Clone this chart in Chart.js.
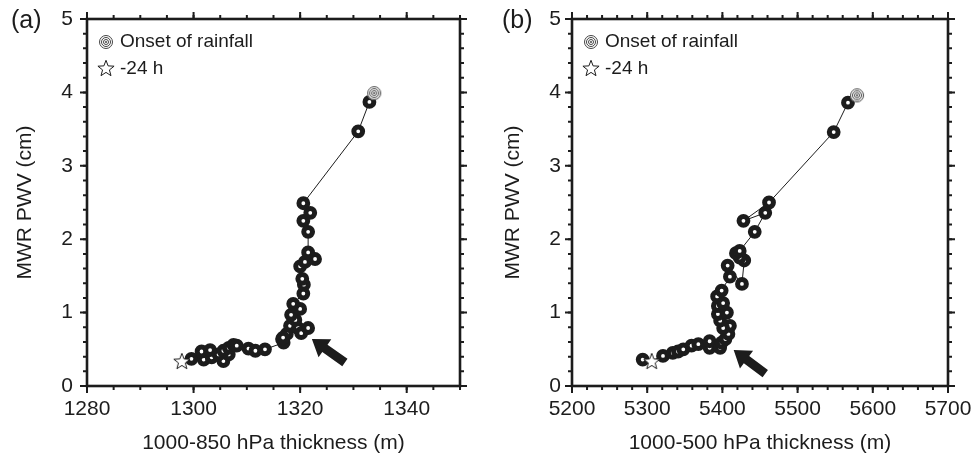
<!DOCTYPE html>
<html>
<head>
<meta charset="utf-8">
<title>MWR PWV vs thickness</title>
<script src="https://cdn.jsdelivr.net/npm/chart.js@4.4.0/dist/chart.umd.min.js"></script>
<style>
  html, body { margin: 0; padding: 0; background: #fff; }
  #wrap { position: relative; width: 976px; height: 459px; overflow: hidden; }
  .panel { position: absolute; top: 0; width: 488px; height: 459px; }
  #panelA { left: 0; }
  #panelB { left: 488px; }
</style>
</head>
<body>
<div id="wrap">
  <div class="panel" id="panelA"><canvas id="chartA" width="488" height="459"></canvas></div>
  <div class="panel" id="panelB"><canvas id="chartB" width="488" height="459"></canvas></div>
</div>
<script>
'use strict';

// Panel (a): 1000-850 hPa thickness (m) and MWR PWV (cm), in time order
var thickA = [1297.8, 1299.6, 1301.9, 1301.5, 1303.4, 1303.1, 1305.6, 1304.7, 1306.6, 1305.6,
  1306.6, 1307.5, 1308.1, 1310.3, 1311.6, 1313.4, 1316.9, 1316.6, 1317.5, 1316.8,
  1318.1, 1319.6, 1320.2, 1321.5, 1319.1, 1318.3, 1320.0, 1318.7, 1320.6, 1320.7,
  1320.4, 1320.0, 1320.9, 1322.8, 1321.5, 1321.5, 1320.6, 1321.9, 1320.6, 1330.9,
  1333.0, 1333.9];
var pwvA = [0.34, 0.37, 0.36, 0.47, 0.39, 0.49, 0.34, 0.43, 0.43, 0.48,
  0.52, 0.56, 0.55, 0.51, 0.48, 0.50, 0.59, 0.64, 0.71, 0.66,
  0.82, 0.79, 0.72, 0.79, 0.90, 0.97, 1.05, 1.12, 1.26, 1.38,
  1.46, 1.63, 1.69, 1.73, 1.82, 2.10, 2.25, 2.36, 2.49, 3.47,
  3.87, 3.99];

// Panel (b): 1000-500 hPa thickness (m) and MWR PWV (cm), in time order
var thickB = [5294, 5306, 5321, 5334, 5341, 5348, 5359, 5368, 5383, 5383,
  5397, 5399, 5404, 5408, 5410, 5401, 5397, 5394, 5406, 5394,
  5401, 5393, 5399, 5410, 5407, 5426, 5429, 5423, 5418, 5423,
  5443, 5457, 5428, 5462, 5548, 5567, 5579];
var pwvB = [0.36, 0.34, 0.41, 0.45, 0.47, 0.50, 0.55, 0.57, 0.52, 0.61,
  0.52, 0.59, 0.64, 0.71, 0.82, 0.79, 0.89, 0.98, 1.00, 1.09,
  1.13, 1.22, 1.30, 1.49, 1.64, 1.39, 1.71, 1.75, 1.81, 1.84,
  2.10, 2.36, 2.25, 2.50, 3.46, 3.86, 3.96];

// which point is -24 h (onset of rainfall is the last point)
var startA = 0;
var startB = 1;

// axes
var xTicksA = [1280, 1300, 1320, 1340];
var xTicksB = [5200, 5300, 5400, 5500, 5600, 5700];
var yTicks = [0, 1, 2, 3, 4, 5];

// arrows: tail x, tail y, tip x, tip y (data units)
var arrowA = [1328.4, 0.32, 1322.2, 0.64];
var arrowB = [5457, 0.17, 5415, 0.49];

var ink = '#1c1c1c';
Chart.defaults.font.family = '"Liberation Sans", Arial, Helvetica, sans-serif';
Chart.defaults.color = ink;

// point images
function makeStar() {
  var c = document.createElement('canvas');
  c.width = 20; c.height = 20;
  var g = c.getContext('2d');
  g.beginPath();
  for (var i = 0; i < 10; i++) {
    var r = i % 2 === 0 ? 8.5 : 3.6;
    var a = -Math.PI / 2 + i * Math.PI / 5;
    var px = 10 + r * Math.cos(a), py = 10.8 + r * Math.sin(a);
    if (i === 0) g.moveTo(px, py); else g.lineTo(px, py);
  }
  g.closePath();
  g.fillStyle = '#fff';
  g.fill();
  g.lineWidth = 1;
  g.strokeStyle = ink;
  g.stroke();
  return c;
}
function makeBull() {
  var c = document.createElement('canvas');
  c.width = 16; c.height = 16;
  var g = c.getContext('2d');
  g.fillStyle = '#fff';
  g.beginPath(); g.arc(8, 8, 7, 0, Math.PI * 2); g.fill();
  g.strokeStyle = '#444';
  g.lineWidth = 1;
  [6.5, 4.5, 2.5].forEach(function (r) {
    g.beginPath(); g.arc(8, 8, r, 0, Math.PI * 2); g.stroke();
  });
  g.fillStyle = '#444';
  g.beginPath(); g.arc(8, 8, 1, 0, Math.PI * 2); g.fill();
  return c;
}
var starImg = makeStar();
var bullImg = makeBull();

// box with outward ticks on all four sides
var framePlugin = {
  id: 'frame',
  afterDraw: function (chart, args, opts) {
    var ctx = chart.ctx, a = chart.chartArea;
    var xs = chart.scales.x, ys = chart.scales.y;
    ctx.save();
    ctx.strokeStyle = ink;
    ctx.lineWidth = 2;
    ctx.lineCap = 'butt';
    function tick(len, v, isX) {
      if (isX) {
        var px = xs.getPixelForValue(v);
        ctx.beginPath();
        ctx.moveTo(px, a.bottom); ctx.lineTo(px, a.bottom + len);
        ctx.moveTo(px, a.top); ctx.lineTo(px, a.top - len);
        ctx.stroke();
      } else {
        var py = ys.getPixelForValue(v);
        ctx.beginPath();
        ctx.moveTo(a.left, py); ctx.lineTo(a.left - len, py);
        ctx.moveTo(a.right, py); ctx.lineTo(a.right + len, py);
        ctx.stroke();
      }
    }
    var v;
    for (v = xs.min; v <= xs.max + 1e-9; v += opts.xMinor) tick(4, v, true);
    opts.xTicks.forEach(function (t) { tick(7, t, true); });
    for (v = ys.min; v <= ys.max + 1e-9; v += 0.2) tick(4, v, false);
    yTicks.forEach(function (t) { tick(7, t, false); });
    ctx.lineWidth = 2.6;
    ctx.strokeRect(a.left, a.top, a.right - a.left, a.bottom - a.top);
    ctx.restore();
  }
};

// big black arrow
var arrowPlugin = {
  id: 'arrow',
  afterDraw: function (chart, args, opts) {
    var xs = chart.scales.x, ys = chart.scales.y, ctx = chart.ctx;
    var x0 = xs.getPixelForValue(opts.pos[0]), y0 = ys.getPixelForValue(opts.pos[1]);
    var x1 = xs.getPixelForValue(opts.pos[2]), y1 = ys.getPixelForValue(opts.pos[3]);
    var ang = Math.atan2(y1 - y0, x1 - x0);
    var len = Math.hypot(x1 - x0, y1 - y0);
    var head = 16, hw = 11, sw = 4.5;
    ctx.save();
    ctx.translate(x0, y0);
    ctx.rotate(ang);
    ctx.beginPath();
    ctx.moveTo(0, -sw);
    ctx.lineTo(len - head, -sw);
    ctx.lineTo(len - head, -hw);
    ctx.lineTo(len, 0);
    ctx.lineTo(len - head, hw);
    ctx.lineTo(len - head, sw);
    ctx.lineTo(0, sw);
    ctx.closePath();
    ctx.fillStyle = ink;
    ctx.fill();
    ctx.restore();
  }
};

// legend in the top left corner and the panel letter
var notePlugin = {
  id: 'note',
  afterDraw: function (chart, args, opts) {
    var ctx = chart.ctx, a = chart.chartArea;
    ctx.save();
    ctx.fillStyle = ink;
    ctx.textBaseline = 'middle';
    ctx.textAlign = 'left';
    ctx.font = '19px "Liberation Sans", Arial, sans-serif';
    ctx.drawImage(bullImg, a.left + 19 - 8, a.top + 23 - 8);
    ctx.fillText('Onset of rainfall', a.left + 33, a.top + 23);
    ctx.drawImage(starImg, a.left + 19 - 10, a.top + 50 - 11);
    ctx.fillText('-24 h', a.left + 33, a.top + 50);
    ctx.font = '25px "Liberation Sans", Arial, sans-serif';
    ctx.fillText(opts.letter, opts.letterX, 21);
    ctx.restore();
  }
};

function plain(v) { return String(v); }

function makeChart(id, o) {
  var pts = o.x.map(function (v, i) { return { x: v, y: o.y[i] }; });
  var last = pts.length - 1;
  return new Chart(document.getElementById(id), {
    type: 'scatter',
    data: {
      datasets: [
        { data: [pts[o.start]], pointStyle: starImg, order: 1 },
        { data: [pts[last]], pointStyle: bullImg, order: 1 },
        {
          data: pts,
          showLine: true,
          borderColor: ink,
          borderWidth: 1,
          pointStyle: 'circle',
          pointRadius: function (c) { return (c.dataIndex === last || c.dataIndex === o.start) ? 0 : 4.4; },
          pointBorderWidth: 5,
          pointBorderColor: ink,
          pointBackgroundColor: '#fff',
          order: 2
        }
      ]
    },
    options: {
      responsive: false,
      animation: false,
      devicePixelRatio: 1,
      layout: { padding: { left: 0, right: 28, top: 19, bottom: 0 } },
      plugins: {
        legend: { display: false },
        tooltip: { enabled: false },
        frame: { xTicks: o.xTicks, xMinor: o.xMinor },
        arrow: { pos: o.arrow },
        note: { letter: o.letter, letterX: o.letterX }
      },
      scales: {
        x: {
          type: 'linear',
          min: o.xMin,
          max: o.xMax,
          afterBuildTicks: function (s) { s.ticks = o.xTicks.map(function (v) { return { value: v }; }); },
          afterFit: function (s) { s.height = 73; s.paddingLeft = 0; s.paddingRight = 0; },
          grid: { display: false, drawTicks: false },
          border: { display: false },
          ticks: { font: { size: 21 }, color: ink, padding: 11, maxRotation: 0, autoSkip: false, callback: plain },
          title: { display: true, text: o.xTitle, color: ink, font: { size: 21 }, padding: { top: 0, bottom: 3 } }
        },
        y: {
          type: 'linear',
          min: 0,
          max: 5,
          afterBuildTicks: function (s) { s.ticks = yTicks.map(function (v) { return { value: v }; }); },
          afterFit: function (s) { s.width = o.yWidth; s.paddingTop = 0; s.paddingBottom = 0; },
          grid: { display: false, drawTicks: false },
          border: { display: false },
          ticks: { font: { size: 21 }, color: ink, padding: o.yPad, callback: plain },
          title: { display: true, text: 'MWR PWV (cm)', color: ink, font: { size: 21 }, padding: { top: 13, bottom: 0 } }
        }
      }
    },
    plugins: [framePlugin, arrowPlugin, notePlugin]
  });
}

makeChart('chartA', {
  x: thickA, y: pwvA, start: startA,
  xMin: 1280, xMax: 1350, xTicks: xTicksA, xMinor: 5,
  xTitle: '1000-850 hPa thickness (m)',
  arrow: arrowA, letter: '(a)', letterX: 11,
  yWidth: 87, yPad: 14
});

makeChart('chartB', {
  x: thickB, y: pwvB, start: startB,
  xMin: 5200, xMax: 5700, xTicks: xTicksB, xMinor: 20,
  xTitle: '1000-500 hPa thickness (m)',
  arrow: arrowB, letter: '(b)', letterX: 14,
  yWidth: 84, yPad: 11
});
</script>
</body>
</html>
